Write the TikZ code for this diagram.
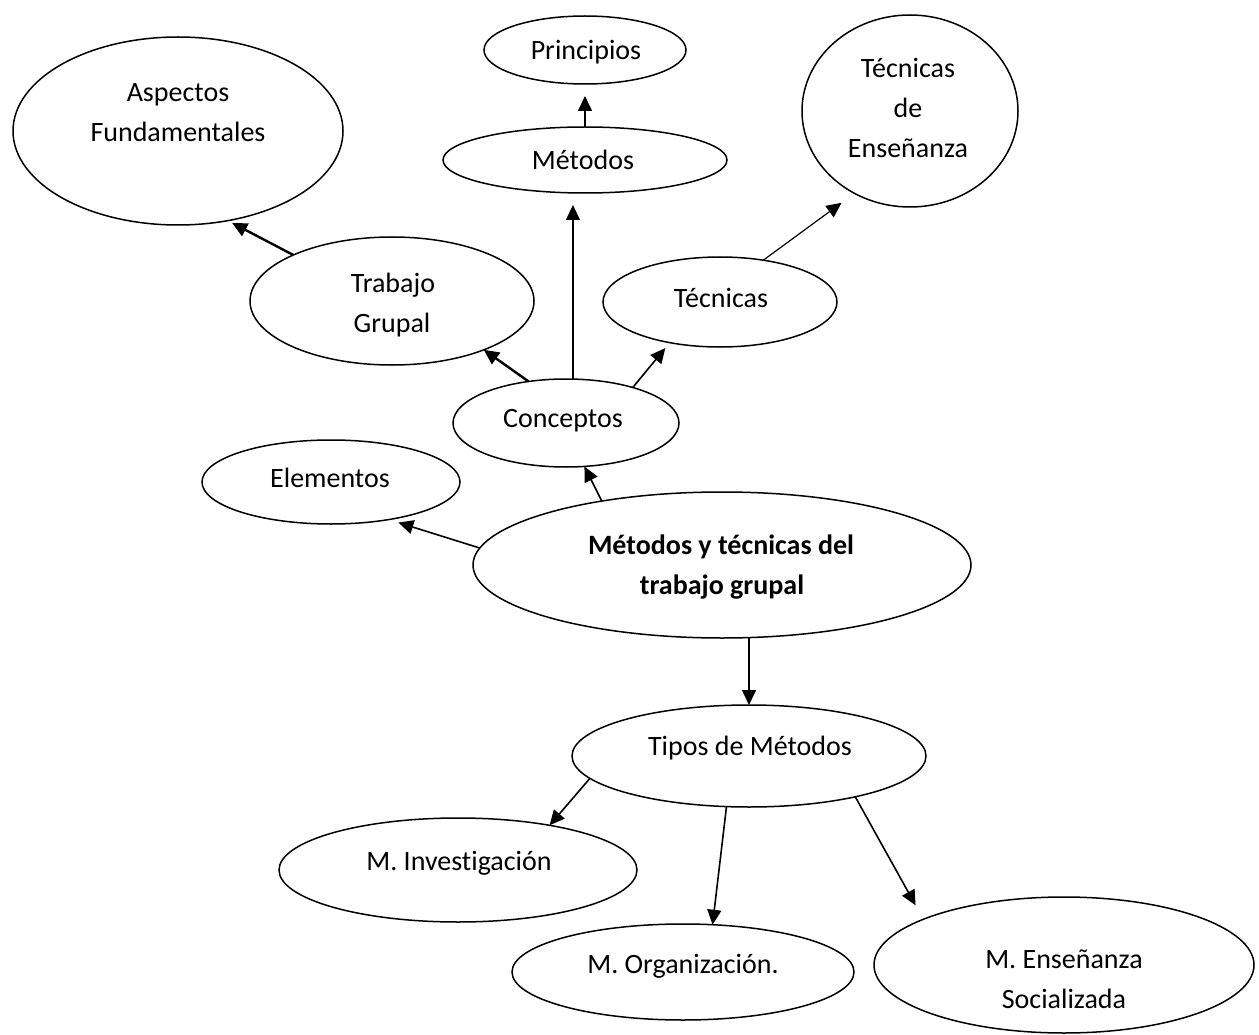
\documentclass[tikz,border=0pt]{standalone}
\usepackage{fontspec}
\setmainfont{Carlito}[Ligatures=NoCommon]
\usetikzlibrary{arrows.meta,shapes.geometric,calc}
\begin{document}
\begin{tikzpicture}[x=1pt,y=-1pt,
  ell/.style={draw, ellipse, line width=1.5pt, inner sep=0pt, outer sep=0pt},
  lbl/.style={anchor=base, inner sep=0pt, font=\fontsize{28}{34}\selectfont},
  arr/.style={-{Triangle[length=15pt,width=14pt]}, line width=1.6pt},
  thickarr/.style={arr, line width=2.4pt},
  thinarr/.style={arr, line width=1.2pt}
]
\useasboundingbox (0,0) rectangle (1259,1035);

% ellipses
\node[ell, minimum width=330pt, minimum height=188pt] (aspectos) at (178,131) {};
\node[ell, minimum width=202pt, minimum height=68pt] (principios) at (585,50) {};
\node[ell, minimum width=284pt, minimum height=66pt] (metodos) at (585,160) {};
\node[ell, minimum width=216pt, minimum height=192pt] (tde) at (910,111) {};
\node[ell, minimum width=284pt, minimum height=128pt] (trabajo) at (392,301) {};
\node[ell, minimum width=234pt, minimum height=90pt] (tecnicas) at (720,302) {};
\node[ell, minimum width=226pt, minimum height=88pt] (conceptos) at (566,423) {};
\node[ell, minimum width=258pt, minimum height=84pt] (elementos) at (331,482) {};
\node[ell, minimum width=498pt, minimum height=146pt] (main) at (722,565) {};
\node[ell, minimum width=354pt, minimum height=102pt] (tipos) at (749,756) {};
\node[ell, minimum width=358pt, minimum height=104pt] (inv) at (458,870) {};
\node[ell, minimum width=342pt, minimum height=96pt] (org) at (683,972) {};
\node[ell, minimum width=380pt, minimum height=136pt] (ens) at (1064,965) {};

% texts
\node[lbl] (aspectosA) at (178,102) {Aspectos};
\node[lbl] (aspectosB) at (178,142) {Fundamentales};
\node[lbl] (principiosT) at (586,60) {Principios};
\node[lbl] (metodosT) at (583,170) {Métodos};
\node[lbl] (tdeA) at (908,78) {Técnicas};
\node[lbl] (tdeB) at (908,118) {de};
\node[lbl] (tdeC) at (908,158) {Enseñanza};
\node[lbl] (trabajoA) at (393,293) {Trabajo};
\node[lbl] (trabajoB) at (392,332) {Grupal};
\node[lbl] (tecnicasT) at (721,307) {Técnicas};
\node[lbl] (conceptosT) at (563,427) {Conceptos};
\node[lbl] (elementosT) at (330,487) {Elementos};
\node[lbl, font=\fontsize{28}{34}\selectfont\bfseries] (mainA) at (721,554) {Métodos y técnicas del};
\node[lbl, font=\fontsize{28}{34}\selectfont\bfseries] (mainB) at (722,594) {trabajo grupal};
\node[lbl] (tiposT) at (750,755) {Tipos de Métodos};
\node[lbl] (invT) at (459,870) {M. Investigación};
\node[lbl] (orgT) at (683,973) {M. Organización.};
\node[lbl] (ensA) at (1064,968) {M. Enseñanza};
\node[lbl] (ensB) at (1064,1008) {Socializada};

% connectors
\draw[arr, shorten >=12pt] (metodos.north) -- (principios.south);
\draw[thinarr, shorten >=12pt] (conceptos.81) -- (conceptos.81 |- metodos.south);
\draw[thickarr] (conceptos.132) -- (trabajo.332);
\draw[arr, shorten >=7pt] (conceptos.28) -- (tecnicas.219);
\draw[thickarr, shorten >=5pt] (trabajo.155) -- (aspectos.299);
\draw[thinarr, shorten >=16pt] (tecnicas.44) -- (tde.236);
\draw[arr] (main.152) -- (conceptos.293.4);
\draw[arr, shorten >=10pt] (main.176) -- (elementos.327);
\draw[arr] (tipos.north |- main.south) -- (tipos.north);
\draw[arr] (tipos.188) -- (inv.26);
\draw[arr] (tipos.246) -- (org.58.5);
\draw[arr, shorten >=16pt] (tipos.339) -- (ens.162);
\end{tikzpicture}
\end{document}
